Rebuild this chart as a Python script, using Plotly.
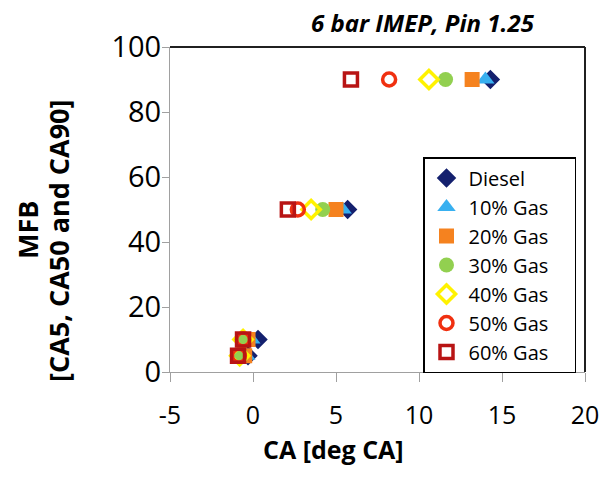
import plotly.graph_objects as go

# Mass fraction burned levels (%) and the crank angle at which each is reached
mfb_levels = [5, 10, 50, 90]

series_names = ["Diesel", "10% Gas", "20% Gas", "30% Gas", "40% Gas", "50% Gas", "60% Gas"]
ca_diesel = [-0.3, 0.3, 5.7, 14.3]
ca_gas10 = [-0.4, -0.1, 5.4, 14.0]
ca_gas20 = [-0.5, -0.3, 5.0, 13.2]
ca_gas30 = [-0.7, -0.5, 4.2, 11.6]
ca_gas40 = [-0.8, -0.6, 3.5, 10.6]
ca_gas50 = [-0.85, -0.6, 2.7, 8.2]
ca_gas60 = [-0.9, -0.6, 2.1, 5.9]

x_ticks = [-5, 0, 5, 10, 15, 20]
x_tick_text = ["-5", "0", "5", "10", "15", "20"]
y_ticks = [0, 20, 40, 60, 80, 100]

series_ca = [ca_diesel, ca_gas10, ca_gas20, ca_gas30, ca_gas40, ca_gas50, ca_gas60]
styles = [
    dict(symbol="diamond", color="#14206E", size=15, lw=0),
    dict(symbol="triangle-up", color="#38B0F0", size=16, lw=0),
    dict(symbol="square", color="#F5821F", size=15, lw=0),
    dict(symbol="circle", color="#92D050", size=15, lw=0),
    dict(symbol="diamond-open", color="#FFF200", size=14, lw=3.5),
    dict(symbol="circle-open", color="#F03010", size=13, lw=3.5),
    dict(symbol="square-open", color="#B81414", size=13, lw=3.5),
]

FONT = "Open Sans"
NBSP = "\u00a0"

fig = go.Figure()
for name, ca, st in zip(series_names, series_ca, styles):
    fig.add_trace(go.Scatter(
        x=ca, y=mfb_levels, mode="markers", name=name + NBSP * 4,
        marker=dict(symbol=st["symbol"], color=st["color"], size=st["size"],
                    line=dict(width=st["lw"], color=st["color"])),
    ))

fig.update_layout(
    width=602, height=477,
    margin=dict(l=170, r=17, t=47, b=105),
    paper_bgcolor="white", plot_bgcolor="white",
    font=dict(family=FONT, color="black"),
    showlegend=True,
    legend=dict(
        x=(423 - 170) / 415, y=(372 - 157) / 325, xanchor="left", yanchor="top",
        bgcolor="white", bordercolor="black", borderwidth=1.5,
        font=dict(size=20, family=FONT),
        itemwidth=34, tracegroupgap=0,
    ),
    xaxis=dict(
        range=[-5, 20], tickvals=x_ticks, ticktext=x_tick_text,
        showgrid=False, zeroline=False, automargin=False,
        showline=True, linecolor="#A0A0A0", linewidth=1,
        ticks="outside", ticklen=9, tickcolor="#A0A0A0",
        tickfont=dict(size=25, family=FONT), ticklabelstandoff=12,
    ),
    yaxis=dict(
        range=[0, 100], tickvals=y_ticks, showgrid=False, zeroline=False, automargin=False,
        showline=True, linecolor="#A0A0A0", linewidth=1,
        ticks="outside", ticklen=7, tickcolor="#A0A0A0",
        tickfont=dict(size=29, family=FONT), ticklabelstandoff=-5,
    ),
    shapes=[
        dict(type="line", xref="paper", yref="paper", x0=0, x1=1, y0=1, y1=1,
             line=dict(color="#202020", width=2)),
        dict(type="line", xref="paper", yref="paper", x0=1, x1=1, y0=0, y1=1,
             line=dict(color="#202020", width=2)),
    ],
    annotations=[
        dict(text="<b><i>6 bar IMEP, Pin 1.25</i></b>", xref="paper", yref="paper",
             x=(423 - 170) / 415, y=(372 - 22) / 325, xanchor="center", yanchor="middle",
             showarrow=False, font=dict(size=24, family=FONT)),
        dict(text="<b>CA [deg CA]</b>", xref="paper", yref="paper",
             x=(333 - 170) / 415, y=(372 - 449) / 325, xanchor="center", yanchor="middle",
             showarrow=False, font=dict(size=25, family=FONT)),
        dict(text="<b>MFB</b>", xref="paper", yref="paper",
             x=(28 - 170) / 415, y=(372 - 230) / 325, xanchor="center", yanchor="middle",
             textangle=-90, showarrow=False, font=dict(size=27, family=FONT)),
        dict(text="<b>[CA5, CA50 and CA90]</b>", xref="paper", yref="paper",
             x=(58 - 170) / 415, y=(372 - 241) / 325, xanchor="center", yanchor="middle",
             textangle=-90, showarrow=False, font=dict(size=27, family=FONT)),
    ],
)

fig.write_html("out.html")
